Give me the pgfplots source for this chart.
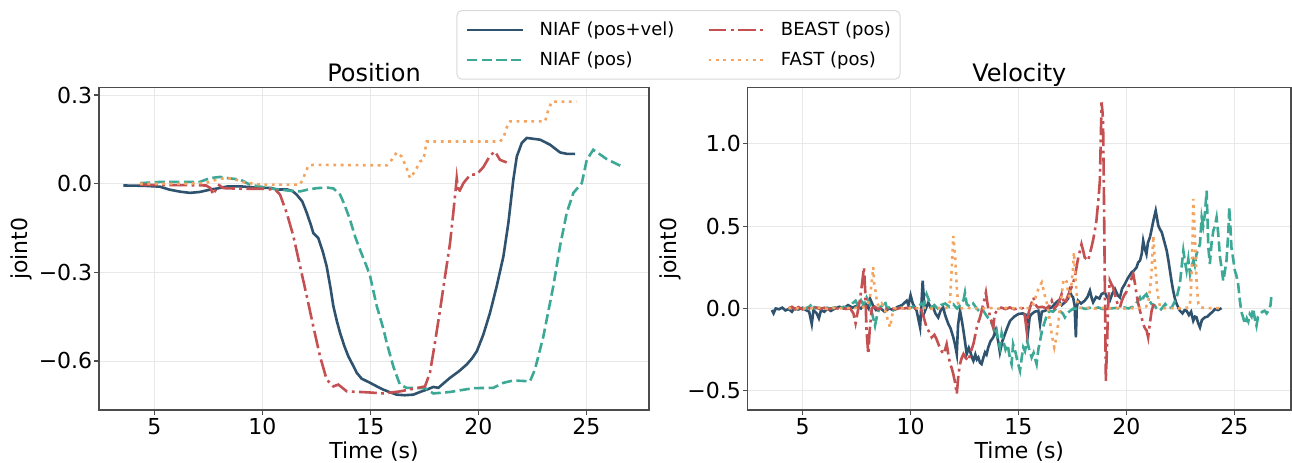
\documentclass[border=0pt]{standalone}
\usepackage{fontspec}
\setmainfont{DejaVu Sans}
\usepackage{pgfplots}
\pgfplotsset{compat=1.18}
\definecolor{cA}{HTML}{2F536E}
\definecolor{cB}{HTML}{3CA896}
\definecolor{cC}{HTML}{C45052}
\definecolor{cD}{HTML}{F4A461}
\pgfplotsset{
  myaxis/.style={
    scale only axis, anchor=south west,
    axis line style={black!70, line width=0.6pt},
    tick style={black!70, line width=0.6pt},
    major tick length=2.4pt,
    tick align=outside, tick pos=left,
    grid=major, major grid style={black!9, line width=0.45pt},
    tick label style={font=\fontsize{11}{13}\selectfont},
    label style={font=\fontsize{11}{13}\selectfont},
    title style={font=\fontsize{12}{14}\selectfont, at={(axis description cs:0.5,1)}, anchor=base, yshift=-3.1pt},
    xlabel style={at={(axis description cs:0.5,0)}, anchor=base, yshift=-24pt},
    xticklabel style={anchor=base, inner sep=0pt, yshift=-10pt},
    yticklabel style={anchor=east, inner sep=0pt, xshift=-0.8pt},
    xtick={5,10,15,20,25}, xticklabels={5,10,15,20,25},
    xlabel={Time (s)}, ylabel={joint0},
  },
  s1/.style={cA, line width=1.3pt},
  s2/.style={cB, line width=1.3pt, dash pattern=on 5.1pt off 2.2pt},
  s3/.style={cC, line width=1.3pt, dash pattern=on 8.9pt off 2.2pt on 1.4pt off 2.2pt},
  s4/.style={cD, line width=1.3pt, dash pattern=on 1.4pt off 2.3pt},
  legend image code/.code={\draw[#1] (0pt,0pt) -- (28pt,0pt);},
}
\begin{document}
\begin{tikzpicture}
\useasboundingbox (0,0) rectangle (646pt,231pt);
% ---------------- Position ----------------
\begin{axis}[myaxis, at={(49.5pt,26pt)}, width=275pt, height=161.15pt,
  xmin=2.44, xmax=27.9, ymin=-0.766, ymax=0.325,
  ytick={-0.6,-0.3,0,0.3}, yticklabels={−0.6,−0.3,0.0,0.3},
  title={Position},
  ylabel style={at={(axis description cs:-0.1418,0.5)}, anchor=center},
  legend columns=2,
  legend style={at={(axis description cs:1.0536,1.2411)}, anchor=north,
    draw=black!15, line width=0.5pt, rounded corners=2.5pt, fill=white,
    font=\fontsize{9}{11}\selectfont, inner xsep=4.5pt, inner ysep=5.5pt,
    nodes={inner sep=0pt}, cells={anchor=west}, row sep=6.7pt,
    /tikz/every odd column/.append style={column sep=7.5pt},
    /tikz/every even column/.append style={column sep=16.5pt}},
]
\addlegendimage{s1}\addlegendentry{NIAF (pos+vel)}
\addlegendimage{s3}\addlegendentry{BEAST (pos)}
\addlegendimage{s2}\addlegendentry{NIAF (pos)}
\addlegendimage{s4}\addlegendentry{FAST (pos)}
\addplot[s1, forget plot] coordinates {(3.57,-0.006) (4.5,-0.007) (5.26,-0.01) (5.7,-0.02) (6.2,-0.027) (6.65,-0.031) (7.1,-0.028) (7.58,-0.02) (8.0,-0.015) (8.4,-0.009) (9.0,-0.009) (9.5,-0.012) (9.9,-0.014) (10.4,-0.014) (10.67,-0.02) (11.13,-0.019) (11.4,-0.025) (11.59,-0.037) (11.85,-0.06) (12.06,-0.099) (12.25,-0.14) (12.36,-0.167) (12.59,-0.184) (12.8,-0.23) (12.98,-0.28) (13.15,-0.35) (13.29,-0.415) (13.45,-0.465) (13.6,-0.505) (13.8,-0.55) (13.98,-0.584) (14.2,-0.615) (14.37,-0.640) (14.6,-0.660) (14.99,-0.674) (15.3,-0.686) (15.60,-0.697) (15.91,-0.706) (16.22,-0.714) (16.6,-0.716) (16.99,-0.714) (17.3,-0.705) (17.61,-0.697) (17.92,-0.688) (18.15,-0.691) (18.4,-0.675) (18.69,-0.657) (19.1,-0.635) (19.46,-0.612) (19.7,-0.592) (19.93,-0.567) (20.23,-0.511) (20.54,-0.437) (20.85,-0.347) (21.16,-0.246) (21.39,-0.133) (21.62,0.0135) (21.78,0.092) (22.01,0.138) (22.24,0.155) (22.55,0.152) (22.86,0.149) (23.32,0.132) (23.78,0.106) (24.1,0.101) (24.48,0.101)};
\addplot[s2, forget plot] coordinates {(4.34,0.002) (5.26,0.006) (6.2,0.006) (7.1,0.006) (7.58,0.019) (8.04,0.023) (8.5,0.018) (8.97,0.014) (9.43,-0.003) (10.2,-0.014) (10.82,-0.02) (11.3,-0.024) (11.75,-0.026) (12.1,-0.02) (12.52,-0.015) (13.0,-0.013) (13.29,-0.016) (13.6,-0.037) (13.8,-0.07) (14.06,-0.122) (14.3,-0.18) (14.52,-0.223) (14.83,-0.28) (14.99,-0.313) (15.3,-0.415) (15.6,-0.49) (15.76,-0.539) (16.07,-0.62) (16.37,-0.68) (16.68,-0.691) (17.1,-0.692) (17.53,-0.692) (17.92,-0.710) (18.69,-0.705) (19.77,-0.692) (20.69,-0.691) (21.16,-0.674) (21.62,-0.666) (22.39,-0.669) (22.62,-0.629) (23.01,-0.517) (23.47,-0.347) (23.78,-0.212) (24.09,-0.099) (24.4,-0.031) (24.79,0.002) (25.02,0.081) (25.32,0.115) (25.95,0.083) (26.71,0.056)};
\addplot[s3, forget plot] coordinates {(4.34,-0.003) (5.5,-0.005) (6.5,-0.005) (7.4,-0.006) (7.6,-0.015) (7.73,-0.037) (7.85,-0.02) (8.0,-0.005) (8.2,-0.015) (9.0,-0.017) (10.0,-0.017) (10.6,-0.02) (10.82,-0.037) (11.13,-0.099) (11.44,-0.178) (11.75,-0.28) (12.06,-0.381) (12.36,-0.483) (12.67,-0.584) (12.98,-0.663) (13.29,-0.686) (13.52,-0.680) (13.91,-0.703) (14.83,-0.706) (15.6,-0.71) (16.37,-0.703) (17.15,-0.692) (17.53,-0.686) (17.76,-0.640) (17.99,-0.539) (18.23,-0.426) (18.46,-0.313) (18.69,-0.201) (18.84,-0.099) (18.95,-0.02) (19.0,0.019) (19.08,-0.031) (19.31,0.002) (19.62,0.030) (19.93,0.032) (20.23,0.056) (20.54,0.095) (20.77,0.109) (21.0,0.081) (21.31,0.072)};
\addplot[s4, forget plot] coordinates {(4.34,0.0) (5.5,0.0) (6.5,0.0) (7.4,0.003) (7.89,0.014) (8.3,0.02) (8.66,0.016) (9.2,0.004) (9.9,-0.003) (11.0,-0.003) (11.75,-0.003) (11.9,0.02) (12.13,0.061) (12.36,0.064) (15.76,0.062) (15.99,0.081) (16.22,0.106) (16.45,0.092) (16.68,0.053) (16.84,0.019) (17.07,0.042) (17.3,0.075) (17.46,0.081) (17.61,0.143) (21.0,0.143) (21.16,0.155) (21.39,0.207) (21.47,0.211) (23.09,0.211) (23.24,0.25) (23.4,0.278) (24.55,0.278)};
\end{axis}
% ---------------- Velocity ----------------
\begin{axis}[myaxis, at={(373.85pt,26pt)}, width=271.65pt, height=161.15pt,
  xmin=2.451, xmax=27.63, ymin=-0.617, ymax=1.341,
  ytick={-0.5,0,0.5,1.0}, yticklabels={−0.5,0.0,0.5,1.0},
  title={Velocity},
  ylabel style={at={(axis description cs:-0.143,0.5)}, anchor=center},
]
\addplot[s1] coordinates {(3.57,-0.01) (3.65,-0.03) (3.75,0.0) (3.9,-0.005) (4.05,0.005) (4.2,-0.012) (4.35,-0.004) (4.5,-0.02) (4.6,0.0) (4.8,-0.006) (5.0,0.004) (5.15,-0.01) (5.3,-0.02) (5.42,-0.095) (5.5,-0.01) (5.65,-0.03) (5.75,-0.06) (5.85,-0.01) (6.0,-0.02) (6.15,0.0) (6.3,-0.015) (6.5,0.0) (6.7,0.01) (6.9,0.0) (7.1,0.02) (7.3,0.005) (7.5,0.015) (7.7,0.0) (7.9,0.03) (8.05,0.0) (8.12,0.06) (8.25,0.02) (8.4,-0.01) (8.6,0.0) (8.8,-0.02) (9.0,0.0) (9.2,-0.01) (9.4,0.01) (9.6,0.02) (9.82,0.047) (9.9,0.02) (10.0,0.08) (10.1,0.03) (10.28,-0.014) (10.44,-0.115) (10.5,0.02) (10.56,0.168) (10.62,0.05) (10.67,-0.014) (10.82,0.036) (10.95,0.0) (11.05,0.006) (11.15,-0.03) (11.28,-0.055) (11.4,-0.01) (11.51,0.006) (11.6,-0.04) (11.75,-0.095) (11.85,-0.12) (11.98,-0.176) (12.06,-0.22) (12.14,-0.277) (12.2,-0.1) (12.29,-0.014) (12.37,-0.07) (12.45,-0.135) (12.52,-0.2) (12.6,-0.277) (12.7,-0.24) (12.75,-0.257) (12.85,-0.3) (12.91,-0.318) (13.0,-0.28) (13.07,-0.31) (13.14,-0.298) (13.22,-0.33) (13.29,-0.338) (13.37,-0.3) (13.45,-0.267) (13.52,-0.28) (13.6,-0.237) (13.7,-0.2) (13.83,-0.176) (13.95,-0.13) (14.06,-0.2) (14.14,-0.267) (14.25,-0.2) (14.37,-0.156) (14.5,-0.11) (14.61,-0.075) (14.8,-0.05) (14.99,-0.034) (15.2,-0.03) (15.37,-0.04) (15.45,-0.135) (15.52,-0.05) (15.61,-0.034) (15.75,-0.02) (15.92,-0.014) (16.0,-0.095) (16.08,-0.02) (16.23,-0.014) (16.4,0.0) (16.54,0.006) (16.7,0.03) (16.84,0.047) (17.0,0.02) (17.15,0.037) (17.3,0.06) (17.38,0.108) (17.45,0.08) (17.53,0.067) (17.6,0.02) (17.66,-0.176) (17.7,0.0) (17.76,0.047) (17.9,0.03) (18.07,0.047) (18.2,0.07) (18.31,0.108) (18.4,0.06) (18.46,0.037) (18.6,0.07) (18.75,0.06) (18.85,0.087) (19.0,0.098) (19.1,0.07) (19.23,0.047) (19.35,0.09) (19.47,0.118) (19.6,0.08) (19.7,0.067) (19.8,0.12) (19.93,0.148) (20.05,0.18) (20.15,0.2) (20.24,0.219) (20.35,0.23) (20.47,0.249) (20.55,0.28) (20.63,0.29) (20.71,0.33) (20.78,0.411) (20.86,0.36) (20.93,0.33) (21.0,0.4) (21.09,0.431) (21.17,0.48) (21.25,0.533) (21.36,0.594) (21.48,0.503) (21.56,0.48) (21.64,0.463) (21.75,0.41) (21.87,0.351) (21.95,0.29) (22.02,0.229) (22.1,0.16) (22.17,0.108) (22.25,0.06) (22.33,0.027) (22.48,-0.014) (22.6,-0.03) (22.7,-0.01) (22.79,-0.014) (22.9,-0.04) (23.0,-0.02) (23.1,-0.075) (23.18,-0.05) (23.25,-0.054) (23.33,-0.09) (23.41,-0.115) (23.5,-0.07) (23.64,-0.054) (23.75,-0.05) (23.87,-0.034) (24.0,-0.02) (24.1,-0.004) (24.25,-0.01) (24.41,0.002)};
\addplot[s2] coordinates {(4.34,0.0) (4.5,0.005) (4.7,-0.003) (4.9,0.004) (5.1,-0.002) (5.3,0.01) (5.45,0.03) (5.55,0.0) (5.7,0.005) (5.9,-0.005) (6.1,0.004) (6.3,0.0) (6.5,0.006) (6.7,0.0) (6.9,0.01) (7.1,0.0) (7.3,0.03) (7.45,0.047) (7.55,0.02) (7.7,0.05) (7.82,0.02) (7.96,0.067) (8.1,0.03) (8.2,-0.02) (8.35,-0.105) (8.45,-0.04) (8.55,0.0) (8.7,0.02) (8.81,0.047) (8.9,0.0) (9.05,0.01) (9.2,-0.01) (9.4,0.0) (9.55,0.006) (9.7,0.006) (9.9,0.0) (10.1,0.01) (10.3,0.0) (10.5,0.03) (10.6,0.02) (10.74,0.087) (10.85,0.05) (10.98,0.006) (11.1,0.02) (11.25,0.0) (11.4,0.02) (11.6,0.03) (11.8,0.01) (11.98,0.025) (12.15,0.0) (12.3,0.02) (12.45,0.05) (12.52,0.097) (12.6,0.027) (12.75,0.01) (12.9,0.03) (13.06,0.0) (13.2,-0.02) (13.35,-0.01) (13.5,-0.04) (13.68,-0.075) (13.8,-0.1) (13.91,-0.156) (13.99,-0.135) (14.06,-0.2) (14.14,-0.237) (14.22,-0.15) (14.3,-0.197) (14.4,-0.25) (14.5,-0.22) (14.6,-0.3) (14.68,-0.338) (14.75,-0.217) (14.85,-0.26) (14.95,-0.32) (15.07,-0.378) (15.15,-0.3) (15.22,-0.237) (15.3,-0.26) (15.4,-0.197) (15.5,-0.25) (15.61,-0.298) (15.7,-0.27) (15.84,-0.338) (15.92,-0.25) (16.0,-0.197) (16.1,-0.13) (16.23,-0.075) (16.35,-0.03) (16.45,-0.014) (16.6,-0.02) (16.75,0.0) (16.9,-0.014) (17.05,-0.03) (17.15,-0.054) (17.25,-0.03) (17.4,-0.014) (17.55,0.0) (17.76,-0.004) (17.9,0.005) (18.1,-0.003) (18.3,0.004) (18.5,0.0) (18.7,0.006) (18.9,-0.004) (19.1,0.005) (19.3,0.0) (19.5,0.003) (19.7,0.0) (19.9,0.006) (20.1,0.0) (20.3,0.01) (20.45,0.03) (20.55,0.05) (20.63,0.067) (20.72,0.04) (20.8,0.07) (20.93,0.087) (21.05,0.05) (21.17,0.027) (21.3,0.02) (21.4,0.0) (21.56,-0.014) (21.7,0.01) (21.8,0.027) (21.95,0.0) (22.1,0.006) (22.2,0.03) (22.33,0.067) (22.48,0.148) (22.56,0.25) (22.64,0.351) (22.72,0.28) (22.79,0.229) (22.87,0.3) (22.95,0.209) (23.02,0.25) (23.1,0.29) (23.17,0.26) (23.25,0.33) (23.33,0.36) (23.41,0.391) (23.49,0.553) (23.56,0.5) (23.64,0.574) (23.72,0.715) (23.8,0.37) (23.87,0.27) (23.95,0.4) (24.03,0.472) (24.1,0.5) (24.18,0.553) (24.26,0.45) (24.34,0.31) (24.41,0.25) (24.49,0.168) (24.56,0.22) (24.64,0.29) (24.72,0.45) (24.77,0.614) (24.82,0.5) (24.87,0.37) (24.95,0.3) (25.03,0.229) (25.1,0.2) (25.18,0.148) (25.26,0.047) (25.33,-0.02) (25.41,-0.054) (25.5,-0.095) (25.58,-0.06) (25.65,-0.08) (25.72,-0.034) (25.8,-0.05) (25.88,0.0) (25.95,-0.06) (26.03,-0.105) (26.1,-0.05) (26.2,-0.034) (26.3,-0.02) (26.41,-0.014) (26.5,-0.03) (26.6,-0.01) (26.68,0.02) (26.73,0.087)};
\addplot[s3] coordinates {(4.34,0.0) (4.5,0.01) (4.65,-0.005) (4.8,0.008) (5.0,-0.006) (5.2,0.005) (5.4,-0.004) (5.6,0.006) (5.8,-0.003) (6.0,0.004) (6.2,-0.005) (6.4,0.003) (6.6,0.0) (6.8,0.004) (7.0,-0.003) (7.2,0.0) (7.35,-0.03) (7.45,-0.09) (7.55,-0.02) (7.65,0.05) (7.75,0.15) (7.84,0.25) (7.9,0.1) (7.96,-0.14) (8.04,-0.277) (8.1,-0.14) (8.2,0.0) (8.35,0.01) (8.5,-0.005) (8.7,0.005) (8.9,-0.004) (9.1,0.004) (9.3,-0.005) (9.5,0.003) (9.7,0.0) (9.9,0.005) (10.1,-0.004) (10.3,0.006) (10.5,-0.01) (10.6,-0.05) (10.74,-0.115) (10.85,-0.14) (10.98,-0.176) (11.1,-0.16) (11.2,-0.186) (11.35,-0.237) (11.51,-0.277) (11.6,-0.25) (11.67,-0.217) (11.75,-0.28) (11.83,-0.338) (11.9,-0.36) (11.98,-0.399) (12.06,-0.45) (12.14,-0.52) (12.22,-0.4) (12.29,-0.338) (12.37,-0.3) (12.45,-0.277) (12.55,-0.3) (12.68,-0.318) (12.8,-0.26) (12.91,-0.217) (13.0,-0.16) (13.07,-0.115) (13.15,-0.08) (13.22,-0.054) (13.3,-0.01) (13.37,0.027) (13.43,0.06) (13.49,0.097) (13.55,0.04) (13.6,0.0) (13.7,-0.06) (13.83,-0.115) (13.9,-0.034) (14.0,-0.014) (14.2,0.005) (14.4,-0.004) (14.6,0.006) (14.8,-0.005) (15.0,0.004) (15.2,0.0) (15.3,-0.05) (15.38,-0.135) (15.45,-0.04) (15.52,0.0) (15.6,0.03) (15.69,0.067) (15.8,0.02) (15.9,0.006) (16.1,0.01) (16.3,0.0) (16.45,0.02) (16.54,0.047) (16.65,0.0) (16.8,0.02) (16.9,0.05) (17.0,0.087) (17.08,0.05) (17.15,0.027) (17.3,0.08) (17.46,0.128) (17.54,0.16) (17.61,0.188) (17.69,0.25) (17.77,0.31) (17.85,0.35) (17.92,0.39) (18.0,0.35) (18.07,0.31) (18.15,0.3) (18.23,0.29) (18.3,0.33) (18.38,0.37) (18.45,0.41) (18.51,0.45) (18.56,0.49) (18.61,0.53) (18.66,0.6) (18.7,0.654) (18.74,0.72) (18.77,0.775) (18.81,1.0) (18.85,1.252) (18.89,1.2) (18.92,1.14) (18.96,0.7) (19.0,0.17) (19.03,-0.2) (19.05,-0.44) (19.1,-0.24) (19.15,0.0) (19.23,0.17) (19.3,0.15) (19.38,0.13) (19.46,0.09) (19.54,0.047) (19.62,0.02) (19.7,0.006) (19.8,0.05) (19.9,0.08) (20.0,0.1) (20.09,0.128) (20.2,0.17) (20.32,0.209) (20.4,0.15) (20.47,0.087) (20.55,0.03) (20.63,-0.014) (20.7,-0.05) (20.78,-0.095) (20.86,-0.12) (20.94,-0.135) (21.01,-0.176) (21.09,-0.09) (21.17,-0.014) (21.25,0.02) (21.31,0.027)};
\addplot[s4] coordinates {(4.34,0.0) (4.6,0.005) (4.9,-0.003) (5.2,0.004) (5.5,0.0) (5.8,0.005) (6.1,-0.002) (6.4,0.003) (6.7,0.0) (7.0,0.004) (7.3,0.0) (7.6,0.006) (7.9,0.01) (8.1,0.05) (8.18,0.14) (8.23,0.2) (8.27,0.25) (8.32,0.14) (8.38,0.1) (8.45,0.03) (8.55,0.01) (8.66,0.03) (8.8,0.0) (8.92,-0.06) (9.05,-0.115) (9.15,-0.04) (9.25,0.0) (9.5,0.004) (9.8,-0.003) (10.1,0.003) (10.4,0.0) (10.7,0.004) (11.0,-0.002) (11.3,0.003) (11.6,0.0) (11.75,0.01) (11.83,0.047) (11.9,0.23) (11.98,0.44) (12.06,0.33) (12.14,0.13) (12.2,0.03) (12.3,0.0) (12.6,0.004) (12.9,-0.002) (13.2,0.003) (13.5,0.0) (13.8,0.003) (14.1,-0.002) (14.4,0.003) (14.7,0.0) (15.0,0.004) (15.3,0.0) (15.6,0.005) (15.75,0.05) (15.84,0.087) (15.95,0.13) (16.08,0.158) (16.15,0.12) (16.2,0.087) (16.3,0.04) (16.38,-0.01) (16.46,-0.08) (16.54,-0.156) (16.6,-0.2) (16.66,-0.237) (16.72,-0.2) (16.78,-0.156) (16.85,-0.08) (16.92,0.006) (17.0,0.08) (17.08,0.168) (17.15,0.18) (17.22,0.168) (17.3,0.1) (17.38,0.067) (17.46,0.15) (17.53,0.249) (17.57,0.34) (17.61,0.25) (17.65,0.168) (17.72,0.05) (17.8,0.006) (18.0,0.0) (18.3,0.004) (18.6,-0.002) (18.9,0.003) (19.2,0.0) (19.5,0.004) (19.8,-0.003) (20.1,0.003) (20.4,0.0) (20.7,0.004) (20.9,0.01) (21.0,0.027) (21.1,0.12) (21.17,0.229) (21.25,0.442) (21.31,0.3) (21.36,0.229) (21.42,0.12) (21.48,0.067) (21.56,0.01) (21.7,0.0) (22.0,0.004) (22.3,-0.002) (22.6,0.003) (22.9,0.006) (22.97,0.05) (23.03,0.229) (23.07,0.45) (23.1,0.665) (23.14,0.55) (23.18,0.43) (23.25,0.17) (23.3,0.08) (23.34,0.027) (23.45,0.006) (23.7,0.004) (24.0,0.0) (24.3,0.003) (24.49,0.0)};
\end{axis}
\end{tikzpicture}
\end{document}
